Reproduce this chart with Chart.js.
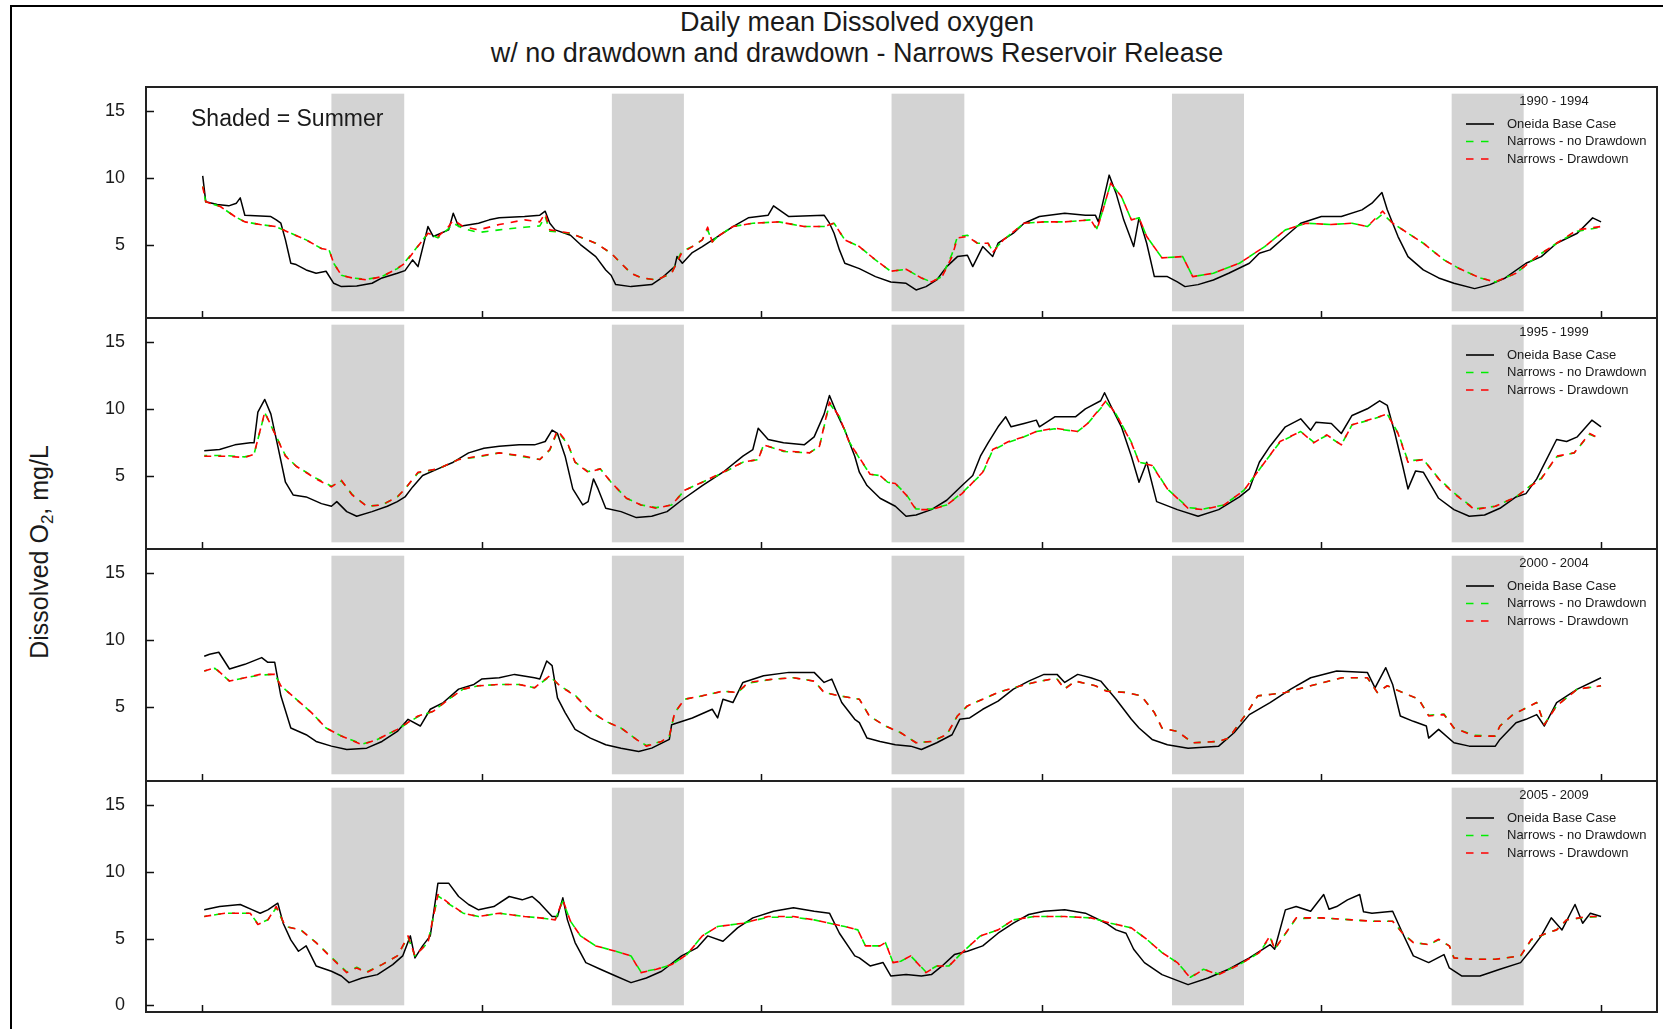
<!DOCTYPE html>
<html>
<head>
<meta charset="utf-8">
<title>Daily mean Dissolved oxygen</title>
<script src="https://cdn.jsdelivr.net/npm/chart.js@4.4.1/dist/chart.umd.min.js"></script>
<style>
  html, body { margin:0; padding:0; background:#fff; }
  body { width:1663px; height:1029px; position:relative; overflow:hidden;
         font-family:"Liberation Sans", Arial, Helvetica, sans-serif; color:#1a1a1a; }
  #frame { position:absolute; left:10px; top:5px; width:1700px; height:1060px;
           border:2px solid #000; box-sizing:border-box; }
  .title { position:absolute; left:857px; transform:translateX(-50%); white-space:nowrap;
           font-size:27px; line-height:1; }
  #t1 { top:9px; }
  #t2 { top:40px; }
  #ylab { position:absolute; left:39px; top:552px; transform:translate(-50%,-50%) rotate(-90deg);
          white-space:nowrap; font-size:25px; line-height:1; }
  #ylab sub { font-size:17px; vertical-align:-5px; line-height:0; }
  #shaded { position:absolute; left:191px; top:107px; font-size:23px; white-space:nowrap; line-height:1; }
  canvas { position:absolute; left:0; }
</style>
</head>
<body>
<div id="frame"></div>
<div class="title" id="t1">Daily mean Dissolved oxygen</div>
<div class="title" id="t2">w/ no drawdown and drawdown - Narrows Reservoir Release</div>
<div id="ylab">Dissolved O<sub>2</sub>, mg/L</div>
<canvas id="c0"></canvas>
<canvas id="c1"></canvas>
<canvas id="c2"></canvas>
<canvas id="c3"></canvas>
<div id="shaded">Shaded = Summer</div>
<script>
// ---------------- DATA ----------------
const periods = ["1990 - 1994", "1995 - 1999", "2000 - 2004", "2005 - 2009"];
const seriesNames = ["Oneida Base Case", "Narrows - no Drawdown", "Narrows - Drawdown"];
// day offsets (from Jan 1 of the first year of each panel) of each Jan 1
const yearStartDays = [0, 365, 730, 1096, 1461, 1826];
// summer (Jun 21 - Sep 22) shading, day offsets
const summerStartDays = [169, 535, 900, 1266, 1631];
const summerEndDays = [264, 629, 995, 1360, 1725];
const shadeBottomDO = 0;
const shadeTopDO = 16.3;
const yTicksUpper = [5, 10, 15];
const yTicksBottom = [0, 5, 10, 15];

// ---- 1990 - 1994 ----
const baseDays1990 = [1,5,20,35,45,50,56,90,97,103,109,116,123,136,149,162,172,182,202,222,235,255,265,275,282,295,302,322,328,335,361,375,388,421,441,448,454,461,481,494,514,527,534,540,560,587,600,617,620,627,640,653,673,693,713,739,746,766,812,819,825,832,839,858,879,899,919,932,945,959,972,986,999,1006,1019,1032,1039,1059,1073,1093,1126,1153,1166,1170,1176,1184,1193,1203,1216,1223,1233,1243,1260,1273,1283,1300,1320,1340,1367,1380,1394,1414,1434,1461,1487,1514,1527,1540,1547,1561,1574,1594,1614,1634,1661,1681,1701,1728,1748,1768,1795,1815,1826];
const baseDO1990 = [10.15,8.2,8.0,7.9,8.1,8.5,7.2,7.1,6.85,6.6,5.35,3.6,3.5,3.1,2.85,3.0,2.1,1.85,1.9,2.1,2.5,2.85,3.05,3.85,3.35,6.35,5.6,6.1,7.35,6.35,6.6,6.85,7.0,7.1,7.2,7.5,6.6,6.1,5.7,5.0,4.1,3.1,2.7,2.0,1.85,2.0,2.5,3.35,4.1,3.6,4.4,4.85,5.6,6.35,7.0,7.2,7.9,7.1,7.2,6.6,5.85,4.6,3.6,3.2,2.6,2.2,2.1,1.6,1.85,2.35,3.35,4.1,4.2,3.35,4.85,4.1,5.1,5.85,6.6,7.1,7.35,7.2,7.2,6.7,8.2,10.2,8.85,6.85,4.85,7.0,5.1,2.6,2.6,2.2,1.85,2.0,2.35,2.85,3.6,4.35,4.6,5.6,6.6,7.1,7.1,7.6,8.1,8.9,7.6,5.6,4.1,3.1,2.5,2.1,1.7,2.0,2.5,3.6,4.1,5.1,5.85,7.0,6.7];
const narrowsDays1990 = [1,5,24,43,56,76,96,116,136,156,166,172,182,196,215,235,255,265,275,295,308,322,328,341,361,388,421,441,448,454,481,514,534,547,560,574,593,613,626,640,653,660,666,673,693,719,753,786,812,825,839,858,879,899,919,939,952,966,979,986,999,1012,1026,1032,1046,1073,1099,1126,1160,1168,1176,1186,1200,1213,1223,1233,1253,1280,1293,1320,1354,1387,1414,1441,1474,1501,1521,1541,1554,1574,1594,1621,1641,1668,1688,1715,1742,1768,1795,1826];
const noDrawdownDO1990 = [9.35,8.2,7.85,7.1,6.7,6.5,6.35,5.85,5.35,4.7,4.6,3.6,2.7,2.5,2.4,2.6,3.2,3.7,4.4,5.85,5.5,6.2,6.6,6.2,5.9,6.1,6.3,6.4,7.1,6.0,5.85,5.1,4.35,3.6,2.85,2.5,2.35,2.85,4.5,4.85,5.35,6.1,5.2,5.6,6.35,6.6,6.7,6.35,6.35,6.6,5.35,4.85,3.85,3.0,3.15,2.5,2.2,2.6,4.3,5.6,5.7,5.1,5.1,4.5,5.35,6.6,6.7,6.7,6.85,6.2,7.6,9.6,8.6,6.85,7.0,5.6,4.0,4.1,2.6,2.85,3.6,4.85,6.1,6.6,6.5,6.6,6.35,7.3,6.6,5.85,5.1,3.85,3.2,2.5,2.2,2.85,4.1,5.1,6.0,6.3];
const drawdownDO1990 = [9.35,8.2,7.85,7.1,6.7,6.5,6.35,5.85,5.35,4.7,4.6,3.6,2.7,2.5,2.35,2.6,3.2,3.6,4.35,5.85,5.6,6.35,6.85,6.35,6.1,6.5,6.85,6.7,7.35,6.1,5.85,5.1,4.35,3.6,2.85,2.5,2.35,2.85,4.35,4.85,5.35,6.3,5.2,5.6,6.35,6.6,6.7,6.35,6.35,6.6,5.35,4.85,3.85,3.0,3.15,2.5,2.2,2.6,4.1,5.5,5.6,5.1,5.1,4.4,5.35,6.6,6.7,6.7,6.85,6.1,7.6,9.6,8.6,6.85,7.0,5.6,4.0,4.1,2.6,2.85,3.6,4.85,6.1,6.6,6.5,6.6,6.35,7.5,6.6,5.85,5.1,3.85,3.2,2.5,2.2,2.85,4.1,5.1,6.1,6.35];

// ---- 1995 - 1999 ----
const baseDays1995 = [3,23,43,63,68,73,82,90,99,109,119,136,156,169,176,189,202,222,242,255,265,275,288,308,328,348,368,388,414,434,448,457,464,474,484,497,504,511,517,527,547,567,587,607,626,653,680,706,719,726,739,759,786,799,812,819,829,839,852,858,868,885,905,919,932,952,972,992,1006,1016,1026,1039,1049,1056,1073,1089,1093,1113,1140,1153,1173,1178,1186,1200,1213,1223,1233,1246,1273,1300,1327,1354,1367,1380,1394,1414,1434,1447,1454,1474,1487,1501,1521,1537,1547,1557,1567,1574,1584,1594,1614,1634,1654,1674,1694,1715,1728,1742,1768,1781,1795,1814,1826];
const baseDO1995 = [6.85,6.95,7.3,7.45,7.45,9.75,10.7,9.6,7.2,4.5,3.55,3.4,2.9,2.7,3.05,2.3,1.95,2.3,2.7,3.05,3.4,4.15,5.0,5.5,6.0,6.7,7.05,7.2,7.3,7.3,7.55,8.4,8.15,6.45,4.0,2.8,3.05,4.75,4.0,2.55,2.3,1.85,1.95,2.3,3.15,4.25,5.25,6.45,6.95,8.55,7.7,7.45,7.3,7.9,9.6,11.0,9.6,8.4,6.45,5.25,4.25,3.3,2.7,1.95,2.05,2.45,3.15,4.25,5.0,6.45,7.45,8.65,9.4,8.65,8.9,9.15,8.65,9.4,9.4,10.0,10.6,11.2,10.25,8.65,6.45,4.5,6.0,3.05,2.45,1.95,2.45,3.4,4.0,6.0,7.2,8.65,9.25,8.4,9.0,8.9,8.15,9.5,10.0,10.6,10.25,8.15,5.75,4.0,5.35,5.25,3.3,2.45,1.95,2.05,2.55,3.4,3.65,4.75,7.7,7.55,7.9,9.15,8.65];
const narrowsDays1995 = [3,30,56,68,82,93,109,123,149,169,182,196,215,235,255,265,282,308,335,361,388,421,441,454,464,477,487,504,520,534,554,573,593,613,630,653,680,706,726,733,759,793,806,819,832,845,858,872,885,895,905,919,932,952,972,992,1019,1032,1053,1073,1089,1113,1143,1156,1180,1193,1213,1223,1240,1260,1287,1307,1334,1360,1387,1407,1434,1451,1468,1487,1501,1527,1547,1561,1574,1594,1614,1634,1661,1688,1715,1735,1748,1768,1791,1811,1826];
const noDrawdownDO1995 = [6.5,6.5,6.4,6.6,9.7,8.4,6.5,5.7,4.8,4.2,4.6,3.6,2.7,2.8,3.4,4.0,5.2,5.5,6.2,6.4,6.7,6.4,6.2,6.9,8.3,7.4,6.0,5.3,5.5,4.5,3.3,2.8,2.6,2.8,3.9,4.5,5.2,6.0,6.2,7.3,6.8,6.7,7.2,10.4,9.4,7.5,6.3,5.1,5.0,4.5,4.4,3.6,2.5,2.5,2.8,3.7,5.2,6.9,7.5,7.9,8.3,8.5,8.3,8.9,10.5,9.6,7.5,6.0,5.8,4.0,2.6,2.5,2.8,3.9,6.0,7.5,8.3,7.5,8.0,7.3,8.8,9.2,9.6,8.2,6.1,6.2,4.8,3.7,2.5,2.7,3.4,4.3,4.8,6.4,6.7,8.1,7.7];
const drawdownDO1995 = [6.45,6.45,6.35,6.6,9.75,8.4,6.45,5.7,4.75,4.15,4.65,3.55,2.7,2.8,3.4,4.0,5.25,5.5,6.2,6.45,6.7,6.45,6.2,6.95,8.4,7.45,6.0,5.25,5.5,4.5,3.3,2.8,2.55,2.8,3.9,4.5,5.25,6.0,6.2,7.3,6.85,6.7,7.2,10.5,9.4,7.45,6.35,5.1,5.0,4.5,4.4,3.55,2.45,2.45,2.8,3.65,5.25,6.95,7.55,7.9,8.3,8.55,8.3,8.9,10.6,9.6,7.45,6.0,5.75,4.0,2.55,2.45,2.8,3.9,6.0,7.55,8.3,7.45,8.05,7.3,8.8,9.25,9.6,8.15,6.0,6.2,4.75,3.65,2.45,2.7,3.4,4.25,4.75,6.45,6.7,8.15,7.7];

// ---- 2000 - 2004 ----
const baseDays2000 = [3,10,22,36,56,78,86,95,103,116,136,149,169,189,215,235,255,269,285,298,315,335,355,365,388,408,434,441,450,457,464,474,487,507,527,547,570,587,610,613,640,666,673,680,693,706,733,766,799,812,822,835,852,858,868,885,905,925,939,959,979,989,1002,1019,1039,1059,1079,1099,1116,1126,1143,1160,1173,1193,1213,1223,1240,1260,1287,1327,1347,1367,1394,1421,1447,1481,1521,1531,1545,1554,1564,1581,1598,1601,1614,1634,1654,1688,1694,1715,1728,1742,1752,1768,1795,1826];
const baseDO2000 = [8.8,8.95,9.1,7.85,8.2,8.7,8.35,8.35,5.85,3.45,2.95,2.45,2.1,1.85,1.95,2.45,3.2,4.1,3.6,4.85,5.35,6.35,6.7,7.1,7.2,7.45,7.2,7.1,8.45,8.1,5.7,4.6,3.35,2.7,2.2,1.95,1.7,1.95,2.6,3.7,4.2,4.85,4.2,5.6,5.35,6.85,7.35,7.6,7.6,6.85,7.1,5.35,4.1,3.85,2.7,2.45,2.2,2.1,1.85,2.35,2.95,4.1,4.2,4.85,5.45,6.35,6.95,7.45,7.45,6.85,7.45,7.2,6.95,5.6,4.1,3.45,2.6,2.2,1.95,2.1,3.1,4.45,5.35,6.35,7.2,7.7,7.6,6.45,7.95,6.7,4.35,3.95,3.6,2.7,3.35,2.35,2.1,2.1,2.6,3.85,4.1,4.45,3.6,5.35,6.35,7.2];
const narrowsDays2000 = [3,17,36,56,76,95,103,123,143,162,182,209,229,255,282,302,322,341,361,388,414,434,454,467,487,507,527,547,567,580,600,610,617,630,653,680,699,713,746,772,799,812,832,858,871,892,912,932,952,972,986,999,1019,1039,1059,1086,1109,1116,1126,1140,1166,1180,1206,1226,1243,1253,1273,1293,1327,1340,1364,1378,1394,1414,1447,1488,1521,1534,1547,1567,1588,1601,1621,1634,1661,1688,1694,1711,1742,1752,1768,1795,1826];
const noDrawdownDO2000 = [7.7,7.9,6.95,7.2,7.4,7.45,6.6,5.6,4.6,3.45,2.85,2.25,2.6,3.35,4.3,4.7,5.6,6.35,6.6,6.7,6.7,6.45,7.3,6.6,5.9,4.7,3.95,3.45,2.6,2.15,2.45,2.85,4.6,5.6,5.85,6.2,6.1,6.8,7.1,7.2,6.95,6.1,5.85,5.6,4.35,3.6,3.1,2.35,2.45,2.95,4.35,5.1,5.6,6.1,6.45,6.85,7.1,7.1,6.4,6.95,6.6,6.25,6.1,5.85,4.6,3.45,3.2,2.35,2.45,2.7,4.6,5.85,5.95,6.1,6.6,7.2,7.2,6.1,6.6,6.1,5.6,4.4,4.5,3.45,2.9,2.85,3.6,4.45,5.35,3.75,5.1,6.35,6.6];
const drawdownDO2000 = [7.7,7.95,6.95,7.2,7.45,7.45,6.6,5.6,4.6,3.45,2.85,2.2,2.6,3.35,4.35,4.7,5.6,6.35,6.6,6.7,6.7,6.45,7.35,6.6,5.85,4.7,3.95,3.45,2.6,2.1,2.45,2.85,4.6,5.6,5.85,6.2,6.1,6.85,7.1,7.2,6.95,6.1,5.85,5.6,4.35,3.6,3.1,2.35,2.45,2.95,4.35,5.1,5.6,6.1,6.45,6.85,7.1,7.1,6.35,6.95,6.6,6.2,6.1,5.85,4.6,3.45,3.2,2.35,2.45,2.7,4.6,5.85,5.95,6.1,6.6,7.2,7.2,6.1,6.6,6.1,5.6,4.35,4.45,3.45,2.85,2.85,3.6,4.45,5.35,3.7,5.1,6.35,6.6];

// ---- 2005 - 2009 ----
const baseDays2005 = [3,23,50,66,76,86,99,106,116,126,136,149,169,182,192,209,229,249,262,272,278,288,298,308,322,335,348,361,381,401,418,431,441,457,464,471,477,487,501,520,540,560,580,600,626,646,660,680,699,719,746,772,799,819,832,852,858,872,889,899,919,939,952,966,982,999,1019,1039,1059,1079,1099,1126,1153,1180,1193,1206,1216,1230,1253,1287,1313,1340,1367,1394,1400,1414,1428,1447,1464,1471,1481,1495,1511,1516,1527,1554,1567,1581,1601,1621,1628,1644,1668,1694,1721,1735,1748,1761,1775,1792,1802,1812,1826];
const baseDO2005 = [7.15,7.4,7.55,7.15,6.9,7.15,7.65,6.15,4.9,4.05,4.45,2.95,2.55,2.2,1.7,2.05,2.3,3.05,3.7,5.2,3.55,4.45,5.2,9.15,9.15,8.15,7.55,7.15,7.4,8.15,7.9,8.15,7.65,6.65,6.65,8.05,6.4,4.7,3.2,2.7,2.2,1.7,2.05,2.55,3.7,4.3,5.2,4.8,5.8,6.55,7.05,7.3,7.05,6.9,5.4,3.7,3.55,2.95,3.2,2.2,2.3,2.2,2.3,2.95,3.8,4.05,4.45,5.4,6.15,6.8,7.05,7.15,6.9,6.15,5.65,5.4,4.2,3.2,2.3,1.55,2.05,2.7,3.55,4.55,4.2,7.15,7.4,7.05,8.3,7.2,7.4,7.9,8.3,7.0,6.9,7.05,5.4,3.7,3.2,3.8,2.8,2.2,2.2,2.7,3.2,4.2,5.2,6.55,5.65,7.55,6.15,6.9,6.65];
const narrowsDays2005 = [3,30,63,73,86,97,109,129,149,169,189,202,215,235,255,269,278,295,308,322,341,361,388,421,441,461,471,481,494,514,540,560,573,593,613,633,653,673,706,739,772,799,819,839,856,866,885,892,902,912,925,945,959,975,992,1016,1039,1059,1086,1126,1160,1186,1213,1233,1253,1273,1290,1307,1327,1354,1380,1394,1400,1428,1461,1501,1527,1554,1567,1581,1601,1614,1628,1634,1661,1688,1721,1735,1755,1768,1781,1808,1826];
const noDrawdownDO2005 = [6.65,6.9,6.9,6.1,6.4,7.3,5.9,5.65,4.7,3.6,2.5,2.85,2.5,3.05,3.7,5.1,3.7,4.7,8.2,7.6,6.9,6.65,6.9,6.65,6.55,6.4,7.8,6.3,5.2,4.45,4.05,3.7,2.5,2.7,3.05,3.8,5.2,5.9,6.15,6.6,6.6,6.4,6.15,5.9,5.65,4.45,4.45,4.7,3.2,3.3,3.7,2.5,2.95,2.95,3.95,5.2,5.65,6.4,6.65,6.65,6.55,6.15,5.8,4.95,3.95,3.2,2.1,2.7,2.35,3.05,3.95,5.1,4.2,6.5,6.55,6.4,6.3,6.3,5.4,4.7,4.55,4.9,4.45,3.55,3.45,3.45,3.7,4.9,5.4,5.65,6.4,6.6,6.65];
const drawdownDO2005 = [6.65,6.9,6.9,6.05,6.4,7.4,5.9,5.65,4.7,3.55,2.45,2.8,2.45,3.05,3.7,5.2,3.7,4.7,8.3,7.65,6.9,6.65,6.9,6.65,6.55,6.4,7.9,6.3,5.2,4.45,4.05,3.7,2.45,2.7,3.05,3.8,5.2,5.9,6.15,6.65,6.65,6.4,6.15,5.9,5.65,4.45,4.45,4.7,3.2,3.3,3.7,2.45,2.95,2.95,3.95,5.2,5.65,6.4,6.65,6.65,6.55,6.15,5.8,4.95,3.95,3.2,2.05,2.7,2.3,3.05,3.95,5.2,4.2,6.55,6.55,6.4,6.3,6.3,5.4,4.7,4.55,4.95,4.45,3.55,3.45,3.45,3.7,4.95,5.4,5.65,6.4,6.65,6.65];

// ---------------- PANELS ----------------
const panelData = [
  { period: periods[0], baseDays: baseDays1990, base: baseDO1990, narDays: narrowsDays1990, noDraw: noDrawdownDO1990, draw: drawdownDO1990, yTicks: yTicksUpper },
  { period: periods[1], baseDays: baseDays1995, base: baseDO1995, narDays: narrowsDays1995, noDraw: noDrawdownDO1995, draw: drawdownDO1995, yTicks: yTicksUpper },
  { period: periods[2], baseDays: baseDays2000, base: baseDO2000, narDays: narrowsDays2000, noDraw: noDrawdownDO2000, draw: drawdownDO2000, yTicks: yTicksUpper },
  { period: periods[3], baseDays: baseDays2005, base: baseDO2005, narDays: narrowsDays2005, noDraw: noDrawdownDO2005, draw: drawdownDO2005, yTicks: yTicksBottom }
];

// layout (pixels)
const panelTops = [87, 318, 549, 781];
const panelBottoms = [318, 549, 781, 1012];
const PAD = 6;
const FONT = '"Liberation Sans", Arial, sans-serif';
const GREEN = '#00ee00', RED = '#ff0000', BLACK = '#000000';

const toPoints = (days, vals) => days.map((d, i) => ({ x: d, y: vals[i] }));

const panelDeco = {
  id: 'panelDeco',
  beforeDatasetsDraw(chart, args, o) {
    const { ctx, chartArea: a, scales: { x, y } } = chart;
    ctx.save();
    ctx.beginPath();
    ctx.rect(a.left, a.top, a.right - a.left, a.bottom - a.top);
    ctx.clip();
    ctx.fillStyle = '#d3d3d3';
    const yT = y.getPixelForValue(shadeTopDO), yB = y.getPixelForValue(shadeBottomDO);
    for (let i = 0; i < summerStartDays.length; i++) {
      const x0 = x.getPixelForValue(summerStartDays[i]);
      const x1 = x.getPixelForValue(summerEndDays[i]);
      ctx.fillRect(x0, yT, x1 - x0, yB - yT);
    }
    ctx.restore();
  },
  afterDatasetsDraw(chart, args, o) {
    const { ctx, chartArea: a, scales: { x, y } } = chart;
    ctx.save();
    // panel box
    ctx.strokeStyle = '#222';
    ctx.lineWidth = 2;
    ctx.strokeRect(a.left, a.top, a.right - a.left, a.bottom - a.top);
    // inward tick marks
    ctx.lineWidth = 1.5;
    ctx.strokeStyle = '#111';
    ctx.beginPath();
    for (const d of yearStartDays) {
      const px = Math.round(x.getPixelForValue(d)) + 0.5;
      ctx.moveTo(px, a.bottom);
      ctx.lineTo(px, a.bottom - 7);
    }
    for (const v of o.yTicks) {
      const py = Math.round(y.getPixelForValue(v)) + 0.5;
      ctx.moveTo(a.left, py);
      ctx.lineTo(a.left + 8, py);
    }
    ctx.stroke();
    // legend
    ctx.fillStyle = '#1a1a1a';
    ctx.font = '13px ' + FONT;
    ctx.textBaseline = 'middle';
    ctx.textAlign = 'center';
    ctx.fillText(o.period, a.right - 103, a.top + 14);
    ctx.textAlign = 'left';
    const rows = [
      { c: BLACK, dash: [] },
      { c: GREEN, dash: [7.5, 7.5] },
      { c: RED, dash: [7.5, 7.5] }
    ];
    rows.forEach((r, i) => {
      const yy = a.top + 37 + i * 17.5;
      ctx.beginPath();
      ctx.setLineDash(r.dash);
      ctx.strokeStyle = r.c;
      ctx.lineWidth = 1.6;
      ctx.moveTo(a.right - 191, yy);
      ctx.lineTo(a.right - 163, yy);
      ctx.stroke();
      ctx.setLineDash([]);
      ctx.fillText(seriesNames[i], a.right - 150, yy);
    });
    ctx.restore();
  }
};

panelData.forEach((p, i) => {
  const cv = document.getElementById('c' + i);
  const h = panelBottoms[i] - panelTops[i] + 2 * PAD;
  cv.width = 1663;
  cv.height = h;
  cv.style.top = (panelTops[i] - PAD) + 'px';
  cv.style.width = '1663px';
  cv.style.height = h + 'px';
  new Chart(cv.getContext('2d'), {
    type: 'line',
    data: {
      datasets: [
        { label: seriesNames[2], data: toPoints(p.narDays, p.draw), borderColor: RED, borderWidth: 1.6,
          borderDash: [7, 7], borderDashOffset: 0, order: 0 },
        { label: seriesNames[1], data: toPoints(p.narDays, p.noDraw), borderColor: GREEN, borderWidth: 1.6,
          borderDash: [7, 7], borderDashOffset: 4, order: 1 },
        { label: seriesNames[0], data: toPoints(p.baseDays, p.base), borderColor: BLACK, borderWidth: 1.5,
          order: 2 }
      ]
    },
    options: {
      responsive: false,
      animation: false,
      devicePixelRatio: 1,
      events: [],
      layout: { padding: { left: 0, right: 6, top: PAD, bottom: PAD } },
      elements: { point: { radius: 0 }, line: { tension: 0, borderJoinStyle: 'round', fill: false } },
      plugins: {
        legend: { display: false },
        tooltip: { enabled: false },
        panelDeco: { period: p.period, yTicks: p.yTicks }
      },
      scales: {
        x: { type: 'linear', min: -73, max: 1899, display: false },
        y: {
          type: 'linear', min: -0.5, max: 16.8, position: 'left',
          afterBuildTicks: (s) => { s.ticks = p.yTicks.map(v => ({ value: v })); },
          afterFit: (s) => { s.width = 146; s.paddingTop = 0; s.paddingBottom = 0; },
          grid: { display: false, drawTicks: false },
          border: { display: false },
          ticks: { font: { family: FONT, size: 18 }, color: '#1a1a1a', padding: 21 }
        }
      }
    },
    plugins: [panelDeco]
  });
});
</script>
</body>
</html>
